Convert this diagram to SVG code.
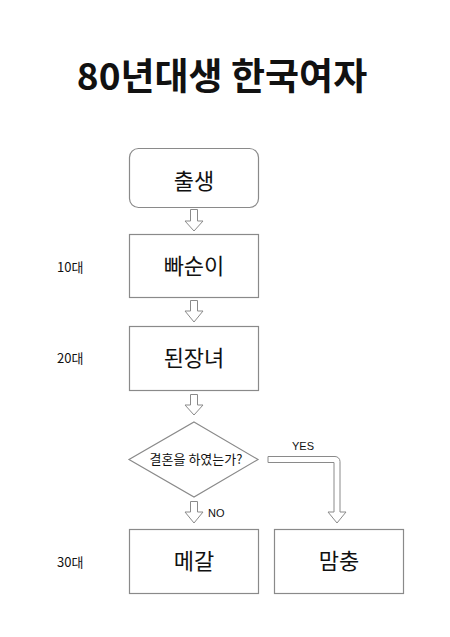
<svg xmlns="http://www.w3.org/2000/svg" width="450" height="637" viewBox="0 0 450 637">
<style>
.box{fill:#fff;stroke:#8a8a8a;stroke-width:1.2}
.arr{fill:#fff;stroke:#8a8a8a;stroke-width:1}
.t{font-family:"Noto Sans CJK KR","Noto Sans",sans-serif;fill:#111}
.big{font-size:22px;text-anchor:middle}
.side{font-size:13px}
.en{font-family:"Liberation Sans",Arial,sans-serif;font-size:11px;fill:#111}
</style>
<rect width="450" height="637" fill="#fff"/>
<text class="t" x="222" y="90" font-size="37" font-weight="bold" text-anchor="middle">80년대생 한국여자</text>
<g id="n-birth"><rect class="box" x="129.5" y="148.5" width="129" height="59" rx="9"/><text class="t big" x="194" y="189">출생</text></g>
<g id="n-10"><rect class="box" x="129.5" y="234.5" width="129" height="63"/><text class="t big" x="194" y="274">빠순이</text><text class="t side" x="57" y="272">10대</text></g>
<g id="n-20"><rect class="box" x="129.5" y="326.5" width="129" height="64"/><text class="t big" x="194" y="366">된장녀</text><text class="t side" x="57" y="363">20대</text></g>
<g id="n-q"><polygon class="box" points="194,422 258,459.5 194,497 129,459.5"/><text class="t" x="196" y="464" font-size="13" text-anchor="middle">결혼을 하였는가?</text></g>
<g id="n-30a"><rect class="box" x="129.5" y="529.5" width="129" height="64"/><text class="t big" x="194" y="569">메갈</text><text class="t side" x="57" y="567">30대</text></g>
<g id="n-30b"><rect class="box" x="274.5" y="529.5" width="129" height="64"/><text class="t big" x="339" y="569">맘충</text></g>
<g id="connectors">
<path class="arr" d="M190.5,209.5 H197.5 V221 H203 L194,231 L185,221 H190.5 Z"/>
<path class="arr" d="M190.5,300.5 H197.5 V311 H203 L194,322 L185,311 H190.5 Z"/>
<path class="arr" d="M190.5,394.5 H197.5 V405 H203 L194,415 L185,405 H190.5 Z"/>
<path class="arr" d="M190.5,501.5 H197.5 V512 H203 L194,523 L185,512 H190.5 Z"/>
<path class="arr" d="M268,456.5 H335 A5,5 0 0 1 340,461.5 V512 H346 L337,523 L328,512 H334 V462.5 H268 Z"/>
<text class="en" x="208" y="517">NO</text>
<text class="en" x="292" y="450">YES</text>
</g>
</svg>
